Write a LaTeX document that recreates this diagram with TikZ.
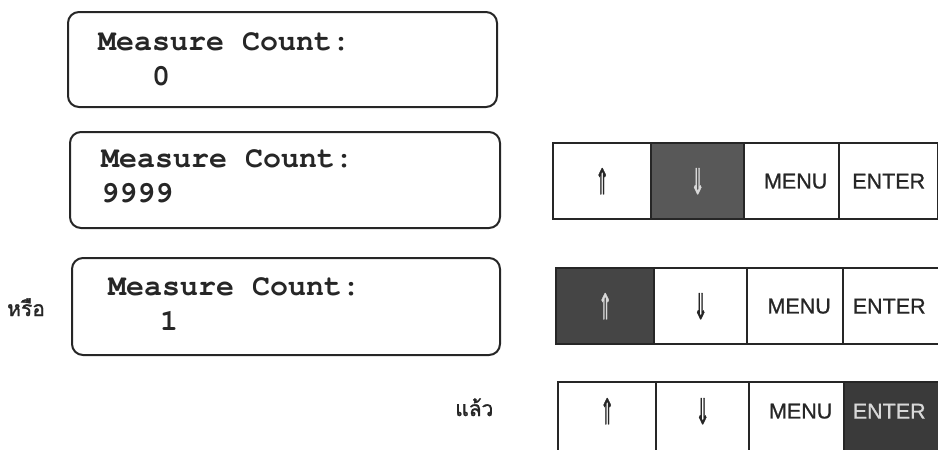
\documentclass[tikz,border=0pt]{standalone}
\usepackage{fontspec}
\setmainfont{Liberation Sans}[FakeBold=0.9]
\newfontfamily\lcdfont{texgyrecursor-bold.otf}
\newfontfamily\thaifont[Script=Thai,FakeBold=1.4]{Loma}
\newfontfamily\arrowfont{DejaVu Sans}[FakeBold=1.2]
\definecolor{shadeA}{HTML}{585858}
\definecolor{shadeB}{HTML}{454545}
\definecolor{shadeC}{HTML}{3A3A3A}
\definecolor{glyphlight}{HTML}{D8D8D8}
\newcommand\keyarrow[1]{\scalebox{0.55}[1.15]{#1}}
\begin{document}
\begin{tikzpicture}[x=1pt,y=-1pt,
  lcdbox/.style={draw=black!85, line width=2pt, rounded corners=11pt},
  lcdtext/.style={anchor=base west, inner sep=0pt, font=\lcdfont\fontsize{30}{30}\selectfont, text=black!85},
  keycell/.style={draw=black!85, line width=2.4pt, anchor=north west, inner sep=0pt},
  keylabel/.style={font=\fontsize{21.5}{21.5}\selectfont, text=black!85},
  arrowlabel/.style={font=\arrowfont\fontsize{31}{31}\selectfont, text=black!85},
  thailabel/.style={font=\thaifont\fontsize{21}{21}\selectfont, text=black!85}
]
\useasboundingbox (0,0) rectangle (938,450);

% --- LCD display boxes ---
\draw[lcdbox] (68,12) rectangle (497,107);
\node[lcdtext] (d1a) at (98,50) {Measure Count:};
\node[lcdtext] (d1b) at (98,85) {\ \ \ 0};

\draw[lcdbox] (70,132) rectangle (500,228);
\node[lcdtext] (d2a) at (101,167) {Measure Count:};
\node[lcdtext] (d2b) at (101,202) {9999};

\draw[lcdbox] (72,258) rectangle (500,355);
\node[lcdtext] (d3a) at (108,295) {Measure Count:};
\node[lcdtext] (d3b) at (106,330) {\ \ \ 1};

\node[thailabel, anchor=base west, inner sep=0pt] (orword) at (7,316) {หรือ};
\node[thailabel, anchor=base west, inner sep=0pt] (thenword) at (455,416) {แล้ว};

% --- key row 1: down key pressed ---
\node[keycell, minimum width=98pt, minimum height=76pt] (r1up) at (552,142) {};
\node[keycell, fill=shadeA, minimum width=93pt, minimum height=76pt] (r1dn) at (650,142) {};
\node[keycell, minimum width=95pt, minimum height=76pt] (r1menu) at (743,142) {};
\node[keycell, minimum width=99pt, minimum height=76pt] (r1ent) at (838,142) {};
\node[arrowlabel] at (r1up.center) {\keyarrow{⇑}};
\node[arrowlabel, text=glyphlight] at (r1dn.center) {\keyarrow{⇓}};
\node[keylabel] at ([xshift=4pt]r1menu.center) {MENU};
\node[keylabel] at (r1ent.center) {ENTER};

% --- key row 2: up key pressed ---
\node[keycell, fill=shadeB, minimum width=98pt, minimum height=76pt] (r2up) at (555,267) {};
\node[keycell, minimum width=93pt, minimum height=76pt] (r2dn) at (653,267) {};
\node[keycell, minimum width=96pt, minimum height=76pt] (r2menu) at (746,267) {};
\node[keycell, minimum width=110pt, minimum height=76pt] (r2ent) at (842,267) {};
\node[arrowlabel, text=glyphlight] at (r2up.center) {\keyarrow{⇑}};
\node[arrowlabel] at (r2dn.center) {\keyarrow{⇓}};
\node[keylabel] at ([xshift=4pt]r2menu.center) {MENU};
\node[keylabel] at ([xshift=-9pt]r2ent.center) {ENTER};

% --- key row 3: enter key pressed ---
\node[keycell, minimum width=98pt, minimum height=90pt] (r3up) at (557,381) {};
\node[keycell, minimum width=93pt, minimum height=90pt] (r3dn) at (655,381) {};
\node[keycell, minimum width=95pt, minimum height=90pt] (r3menu) at (748,381) {};
\node[keycell, fill=shadeC, minimum width=110pt, minimum height=90pt] (r3ent) at (843,381) {};
\node[arrowlabel] at ([yshift=16pt]r3up.center) {\keyarrow{⇑}};
\node[arrowlabel] at ([yshift=16pt]r3dn.center) {\keyarrow{⇓}};
\node[keylabel] at ([xshift=4pt,yshift=16pt]r3menu.center) {MENU};
\node[keylabel, text=glyphlight] at ([xshift=-10pt,yshift=16pt]r3ent.center) {ENTER};
\end{tikzpicture}
\end{document}
